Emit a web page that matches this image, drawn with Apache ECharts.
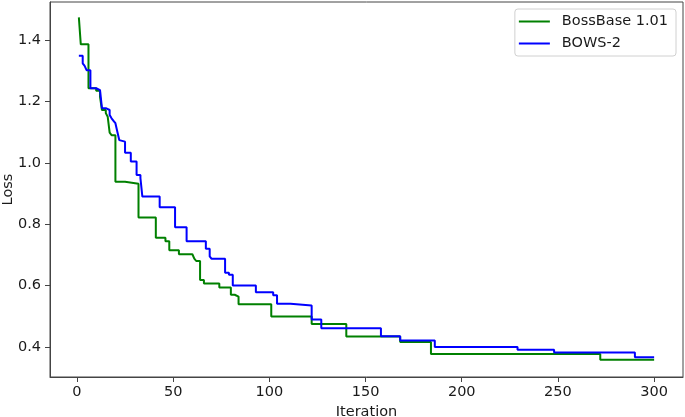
<!DOCTYPE html>
<html>
<head>
<meta charset="utf-8">
<script src="https://cdn.jsdelivr.net/npm/echarts@6/dist/echarts.min.js"></script>
<style>html,body{margin:0;padding:0;background:#fff}#c{width:685px;height:417px}</style>
</head>
<body>
<div id="c"></div>
<script>
// Step change points (iteration where a new loss level starts, and that level)
const bossIter = [1, 2, 6, 10, 12, 13, 15, 16, 17, 18, 20, 25, 32, 41, 46, 48, 53, 60, 61, 62, 64, 66, 74, 80, 82, 84, 101, 122, 140, 168, 184, 272, 300];
const bossLoss = [1.474, 1.386, 1.243, 1.235, 1.215, 1.172, 1.162, 1.150, 1.098, 1.090, 0.938, 0.932, 0.822, 0.756, 0.744, 0.715, 0.702, 0.696, 0.688, 0.680, 0.618, 0.607, 0.594, 0.570, 0.564, 0.539, 0.499, 0.475, 0.434, 0.416, 0.377, 0.358, 0.358];
const bowsIter = [1, 3, 4, 5, 7, 10, 12, 13, 15, 17, 18, 19, 20, 21, 22, 23, 25, 28, 31, 33, 34, 43, 51, 57, 67, 69, 70, 77, 79, 81, 93, 102, 104, 111, 122, 127, 158, 168, 186, 229, 248, 290, 300];
const bowsLoss = [1.349, 1.324, 1.316, 1.302, 1.243, 1.237, 1.233, 1.178, 1.172, 1.156, 1.145, 1.137, 1.129, 1.101, 1.074, 1.069, 1.033, 1.004, 0.960, 0.950, 0.890, 0.855, 0.790, 0.744, 0.720, 0.695, 0.687, 0.642, 0.635, 0.600, 0.578, 0.568, 0.541, 0.535, 0.489, 0.461, 0.435, 0.421, 0.400, 0.391, 0.382, 0.366, 0.366];
const seriesNames = ['BossBase 1.01', 'BOWS-2'];
const xTicks = [0, 50, 100, 150, 200, 250, 300];
const yTicks = [0.4, 0.6, 0.8, 1.0, 1.2, 1.4];

const zip = (a, b) => a.map((v, i) => [v, b[i]]);
const font = 'DejaVu Sans';
const txt = '#1a1a1a';

const chart = echarts.init(document.getElementById('c'), null, {renderer: 'canvas'});
chart.setOption({
  animation: false,
  backgroundColor: '#fff',
  grid: {left: 50, right: 2, top: 2, bottom: 40, containLabel: false, outerBoundsMode: 'none',
    show: true, borderColor: '#444', borderWidth: 1, backgroundColor: 'transparent'},
  xAxis: {
    type: 'value', min: -14, max: 315,
    name: 'Iteration', nameLocation: 'middle', nameGap: 28, nameMoveOverlap: false,
    nameTextStyle: {fontFamily: font, fontSize: 14.5, color: txt},
    axisLine: {show: true, onZero: false, lineStyle: {color: '#444', width: 1}},
    axisTick: {show: true, length: 5, inside: false, customValues: xTicks, lineStyle: {color: '#444'}},
    axisLabel: {customValues: xTicks, margin: 8, fontFamily: font, fontSize: 14.5, color: txt},
    splitLine: {show: false}
  },
  yAxis: {
    type: 'value', min: 0.302, max: 1.524,
    name: 'Loss', nameLocation: 'middle', nameGap: 34, nameMoveOverlap: false,
    nameTextStyle: {fontFamily: font, fontSize: 14.5, color: txt},
    axisLine: {show: true, onZero: false, lineStyle: {color: '#444', width: 1}},
    axisTick: {show: true, length: 5, customValues: yTicks, lineStyle: {color: '#444'}},
    axisLabel: {customValues: yTicks, margin: 9, fontFamily: font, fontSize: 14.5, color: txt,
      formatter: v => v.toFixed(1)},
    splitLine: {show: false}
  },
  legend: {
    orient: 'vertical', right: 9, top: 9,
    padding: [4, 8, 4, 4], itemGap: 5, itemWidth: 31, itemHeight: 2, icon: 'rect',
    itemStyle: {borderWidth: 0},
    textStyle: {fontFamily: font, fontSize: 14.5, color: txt, lineHeight: 17, padding: [0, 0, 0, 7]},
    borderColor: '#d0d0d0', borderWidth: 1, borderRadius: 3, backgroundColor: '#fff',
    data: seriesNames
  },
  series: [
    {name: seriesNames[0], type: 'line', step: 'end', symbol: 'none', data: zip(bossIter, bossLoss),
      color: '#008000', lineStyle: {color: '#008000', width: 2}},
    {name: seriesNames[1], type: 'line', step: 'end', symbol: 'none', data: zip(bowsIter, bowsLoss),
      color: '#0000ff', lineStyle: {color: '#0000ff', width: 2}}
  ]
});
</script>
</body>
</html>
